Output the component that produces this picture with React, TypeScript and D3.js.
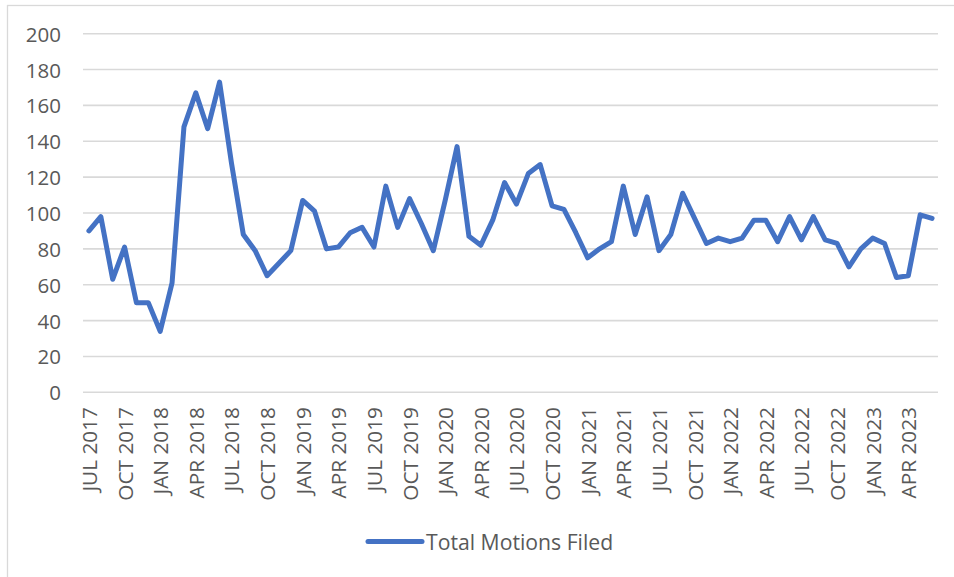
import * as d3 from "d3";

// monthly categories, JUL 2017 .. JUN 2023
const months: string[] = [
  "JUL 2017", "AUG 2017", "SEP 2017", "OCT 2017", "NOV 2017", "DEC 2017",
  "JAN 2018", "FEB 2018", "MAR 2018", "APR 2018", "MAY 2018", "JUN 2018",
  "JUL 2018", "AUG 2018", "SEP 2018", "OCT 2018", "NOV 2018", "DEC 2018",
  "JAN 2019", "FEB 2019", "MAR 2019", "APR 2019", "MAY 2019", "JUN 2019",
  "JUL 2019", "AUG 2019", "SEP 2019", "OCT 2019", "NOV 2019", "DEC 2019",
  "JAN 2020", "FEB 2020", "MAR 2020", "APR 2020", "MAY 2020", "JUN 2020",
  "JUL 2020", "AUG 2020", "SEP 2020", "OCT 2020", "NOV 2020", "DEC 2020",
  "JAN 2021", "FEB 2021", "MAR 2021", "APR 2021", "MAY 2021", "JUN 2021",
  "JUL 2021", "AUG 2021", "SEP 2021", "OCT 2021", "NOV 2021", "DEC 2021",
  "JAN 2022", "FEB 2022", "MAR 2022", "APR 2022", "MAY 2022", "JUN 2022",
  "JUL 2022", "AUG 2022", "SEP 2022", "OCT 2022", "NOV 2022", "DEC 2022",
  "JAN 2023", "FEB 2023", "MAR 2023", "APR 2023", "MAY 2023", "JUN 2023",
];

const motions: number[] = [
  90, 98, 63, 81, 50, 50,
  34, 61, 148, 167, 147, 173,
  128, 88, 79, 65, 72, 79,
  107, 101, 80, 81, 89, 92,
  81, 115, 92, 108, 94, 79,
  107, 137, 87, 82, 96, 117,
  105, 122, 127, 104, 102, 89,
  75, 80, 84, 115, 88, 109,
  79, 88, 111, 97, 83, 86,
  84, 86, 96, 96, 84, 98,
  85, 98, 85, 83, 70, 80,
  86, 83, 64, 65, 99, 97,
];

const yTicks: number[] = [0, 20, 40, 60, 80, 100, 120, 140, 160, 180, 200];
const seriesName = "Total Motions Filed";

const W = 954;
const H = 577;
const plot = { left: 83, right: 938, top: 33.7, bottom: 392.3 };
const lineColor = "#4472C4";
const textColor = "#595959";
const font = "'Open Sans', sans-serif";

export default function App() {
  const x = d3.scaleBand<string>().domain(months).range([plot.left, plot.right]).padding(0);
  const y = d3.scaleLinear().domain([0, 200]).range([plot.bottom, plot.top]);
  const cx = (m: string) => (x(m) ?? 0) + x.bandwidth() / 2;

  const line = d3.line<number>()
    .x((_, i) => cx(months[i]))
    .y(d => y(d));

  return (
    <svg width={W} height={H} style={{ position: "absolute", left: 0, top: 0, display: "block", background: "#fff" }}>
      <rect x={7.5} y={5.5} width={980} height={620} fill="#fff" stroke="#d9d9d9" strokeWidth={1.3} />

      {/* gridlines + y labels */}
      {yTicks.map(t => (
        <g key={t}>
          <line x1={plot.left} x2={plot.right} y1={y(t)} y2={y(t)} stroke="#d9d9d9" strokeWidth={1.6} />
          <text x={61} y={y(t)} textAnchor="end" dominantBaseline="central"
            fontFamily={font} fontSize={20.5} fill={textColor}>{t}</text>
        </g>
      ))}

      {/* x labels every 3rd month */}
      {months.map((m, i) => i % 3 === 0 ? (
        <text key={m} transform={`translate(${cx(m)},407) rotate(-90)`} textAnchor="end"
          dominantBaseline="central" fontFamily={font} fontSize={20.8} fill={textColor}>{m}</text>
      ) : null)}

      <path d={line(motions) ?? ""} fill="none" stroke={lineColor} strokeWidth={5}
        strokeLinejoin="round" strokeLinecap="round" />

      {/* legend */}
      <line x1={368} x2={422} y1={541.5} y2={541.5} stroke={lineColor} strokeWidth={5} strokeLinecap="round" />
      <text x={426} y={541.5} dominantBaseline="central" fontFamily={font} fontSize={21.2} fill={textColor}>{seriesName}</text>
    </svg>
  );
}
